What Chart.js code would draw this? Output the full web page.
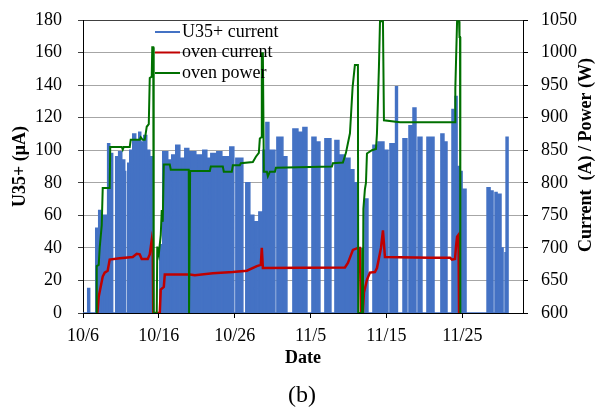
<!DOCTYPE html>
<html>
<head>
<meta charset="utf-8">
<script src="https://cdn.jsdelivr.net/npm/chart.js@4.4.1/dist/chart.umd.min.js"></script>
<style>
  html, body { margin: 0; padding: 0; background: #fff; }
  #wrap { width: 595px; height: 408px; }
</style>
</head>
<body>
<div id="wrap"><canvas id="beamChart"></canvas></div>
<script>
// x values are days counted from 10/6
const tickDays = [0, 10, 20, 30, 40, 50];
const dateLabels = ['10/6', '10/16', '10/26', '11/5', '11/15', '11/25'];

// U35+ beam current: each run is an interval where the beam was on
const beamStart = [0.62, 1.68, 2.07, 2.34, 2.60, 2.86, 3.25, 3.52, 4.31, 4.70, 5.24, 5.50, 5.90, 6.16, 6.56, 6.95, 7.35,
  7.70, 8.01, 8.40, 8.80, 10.12, 10.51, 11.31, 11.70, 12.23, 12.89, 13.42, 14.08, 15.00, 15.79, 16.45, 16.85, 17.64,
  18.43, 19.35, 20.15, 21.46, 21.99, 22.52, 23.18, 23.71, 24.11, 24.64, 25.56, 26.35, 27.67, 28.33, 28.99, 30.18,
  30.71, 31.89, 33.21, 33.73, 34.53, 35.19, 35.71, 37.16, 38.22, 38.88, 39.67, 40.46, 41.20, 42.18, 42.97, 43.50,
  44.16, 45.34, 45.87, 47.18, 47.72, 48.64, 49.04, 49.31, 49.70, 50.10, 53.26, 53.79, 54.31, 54.71, 55.10, 55.63, 55.77];
const beamEnd = [0.88, 2.07, 2.34, 2.60, 2.86, 3.25, 3.52, 3.91, 4.70, 5.11, 5.50, 5.63, 6.16, 6.56, 6.95, 7.35, 7.61,
  8.01, 8.40, 8.80, 9.19, 10.51, 11.17, 11.70, 12.10, 12.76, 13.42, 13.94, 14.87, 15.66, 16.32, 16.85, 17.51, 18.30,
  19.22, 19.88, 21.07, 21.99, 22.52, 23.05, 23.71, 24.11, 24.50, 25.30, 26.35, 26.88, 28.33, 28.99, 29.52, 30.71,
  31.23, 32.68, 33.73, 34.53, 35.19, 35.71, 36.24, 37.56, 38.88, 39.67, 40.20, 41.12, 41.45, 42.70, 43.36, 43.89,
  44.68, 45.74, 46.27, 47.58, 47.98, 49.04, 49.31, 49.70, 49.97, 50.49, 53.66, 54.05, 54.58, 55.10, 55.37, 55.77, 56.03];
const beamTop = [15, 52, 63, 57, 60, 60, 104, 98, 96, 99, 94, 87, 92, 100, 110, 106, 111,
  105, 109, 100, 96, 42, 99, 94, 97, 103, 95, 101, 99, 97, 100, 95, 98, 99,
  96, 102, 95, 80, 60, 56, 62, 100, 117, 100, 108, 96, 113, 111, 114, 108,
  105, 107, 106, 97, 95, 88, 80, 70, 103, 105, 100, 104, 139, 107, 115, 126,
  108, 108, 108, 110, 105, 125, 133, 90, 87, 76, 77, 75, 74, 73, 40, 37, 108];

// oven current (A)
const currentDays = [1.90, 2.07, 2.60, 2.86, 3.25, 3.52, 4.84, 6.56, 7.08, 7.48, 7.74, 8.53, 8.80, 9.06, 9.19, 9.26,
  10.12, 10.25, 10.65, 10.78, 14.08, 14.74, 17.11, 19.75, 21.60, 22.92, 23.44, 23.57, 23.71, 34.53, 34.92, 35.58,
  36.24, 36.50, 36.63, 36.90, 37.03, 37.43, 37.82, 38.48, 38.75, 39.28, 39.54, 39.80, 45.74, 48.38, 48.64, 49.04,
  49.17, 49.31, 49.50, 49.57];
const currentAmps = [600, 625, 656, 662, 665, 682, 684, 686, 691, 690, 683, 683, 690, 712, 700, 600,
  600, 636, 640, 659, 659, 658, 661, 663, 665, 672, 674, 700, 669, 670, 677, 697,
  700, 700, 600, 600, 631, 651, 662, 663, 669, 700, 727, 686, 685, 685, 682, 683,
  702, 717, 720, 600];

// oven power (W)
const powerDays = [1.74, 1.81, 2.07, 2.20, 2.47, 2.60, 3.52, 3.59, 5.11, 5.24, 5.37, 6.16, 6.29, 7.48, 7.61, 7.87,
  8.14, 8.40, 8.67, 8.80, 9.06, 9.13, 9.26, 9.32, 9.72, 9.79, 9.99, 10.25, 10.38, 10.51, 10.65, 11.44, 11.57, 13.94,
  13.98, 14.08, 14.12, 16.72, 16.85, 18.43, 18.56, 19.62, 19.75, 20.67, 20.80, 22.39, 22.79, 23.18, 23.31, 23.51,
  23.57, 23.71, 23.84, 24.24, 24.37, 24.64, 25.30, 25.43, 32.81, 32.94, 34.26, 34.66, 35.19, 35.54, 35.84, 36.24,
  36.28, 36.77, 36.81, 36.90, 36.96, 37.16, 37.30, 37.43, 38.09, 38.62, 38.75, 39.01, 39.15, 39.54, 39.67, 41.78,
  49.04, 49.08, 49.17, 49.31, 49.57, 49.63, 49.70, 49.74];
const powerWatts = [600, 672, 674, 700, 735, 792, 792, 855, 855, 851, 855, 855, 866, 866, 870, 866,
  866, 886, 890, 961, 963, 1008, 1008, 600, 600, 702, 690, 720, 758, 740, 828, 828, 820, 820,
  600, 600, 818, 818, 825, 825, 817, 817, 827, 827, 830, 832, 840, 846, 868, 870,
  999, 999, 817, 817, 810, 817, 817, 823, 825, 830, 831, 846, 876, 947, 981, 981,
  600, 600, 700, 600, 760, 790, 800, 845, 850, 852, 876, 978, 1048, 1048, 896, 893,
  893, 945, 986, 1048, 1048, 1024, 1024, 600];

// each beam run becomes a rectangle that rises from zero and falls back
const beamPoints = [{ x: 0, y: 0 }];
beamStart.forEach((s, i) => {
  beamPoints.push({ x: s, y: 0 }, { x: s, y: beamTop[i] }, { x: beamEnd[i], y: beamTop[i] }, { x: beamEnd[i], y: 0 });
});
const currentPoints = currentDays.map((d, i) => ({ x: d, y: currentAmps[i] }));
const powerPoints = powerDays.map((d, i) => ({ x: d, y: powerWatts[i] }));

const SERIF = '"Liberation Serif", "Times New Roman", serif';
Chart.defaults.font.family = SERIF;
Chart.defaults.color = '#000';

// fixed axis box sizes; drop the label overhang so the plot top stays put
const fixWidth = (w) => (scale) => {
    scale.width = w;
    scale.paddingTop = 0;
    scale.paddingBottom = 0;
};

// legend inside the plot, right axis title and the panel caption
const overlay = {
    id: 'overlay',
    afterDraw(chart) {
        const { ctx, chartArea } = chart;
        ctx.save();
        ctx.font = '18px ' + SERIF;
        ctx.textBaseline = 'middle';
        chart.data.datasets.forEach((ds, i) => {
            const y = chartArea.top + 12 + i * 20.5;
            const x = chartArea.left + 72;
            ctx.strokeStyle = ds.borderColor;
            ctx.lineWidth = 2;
            ctx.beginPath();
            ctx.moveTo(x, y);
            ctx.lineTo(x + 25, y);
            ctx.stroke();
            ctx.fillStyle = '#000';
            ctx.fillText(ds.label, x + 27, y);
        });

        ctx.font = 'bold 18px ' + SERIF;
        ctx.textAlign = 'center';
        ctx.translate(586, 155);
        ctx.rotate(-Math.PI / 2);
        ctx.fillText('Current  (A) / Power (W)', 0, 0);
        ctx.restore();

        ctx.save();
        ctx.font = '24px ' + SERIF;
        ctx.textAlign = 'center';
        ctx.textBaseline = 'alphabetic';
        ctx.fillStyle = '#000';
        ctx.fillText('(b)', 302, 402);
        ctx.restore();
    }
};

new Chart(document.getElementById('beamChart'), {
    type: 'line',
    data: {
        datasets: [
            {
                label: 'U35+ current',
                data: beamPoints,
                yAxisID: 'y',
                borderColor: '#4472C4',
                backgroundColor: '#4472C4',
                borderWidth: 1.5,
                fill: 'origin',
                pointRadius: 0,
                order: 3
            },
            {
                label: 'oven current',
                data: currentPoints,
                yAxisID: 'y2',
                borderColor: '#C00000',
                borderWidth: 2.5,
                fill: false,
                pointRadius: 0,
                order: 2
            },
            {
                label: 'oven power',
                data: powerPoints,
                yAxisID: 'y2',
                borderColor: '#007000',
                borderWidth: 2,
                fill: false,
                pointRadius: 0,
                order: 1
            }
        ]
    },
    options: {
        responsive: true,
        maintainAspectRatio: false,
        animation: false,
        events: [],
        layout: { padding: { top: 20, bottom: 37, left: 0, right: 0 } },
        plugins: {
            legend: { display: false },
            tooltip: { enabled: false }
        },
        scales: {
            x: {
                type: 'linear',
                min: 0,
                max: 58,
                afterBuildTicks: (scale) => { scale.ticks = tickDays.map((v) => ({ value: v })); },
                afterFit: (scale) => { scale.height = 58; },
                ticks: {
                    callback: (value) => dateLabels[tickDays.indexOf(value)],
                    font: { size: 18 },
                    padding: 7,
                    maxRotation: 0,
                    autoSkip: false
                },
                grid: { drawOnChartArea: false, tickLength: 5, tickColor: '#000' },
                border: { color: '#000', width: 1 },
                title: {
                    display: true,
                    text: 'Date',
                    font: { size: 18, weight: 'bold', lineHeight: 1 },
                    padding: { top: 0, bottom: 4 }
                }
            },
            y: {
                position: 'left',
                min: 0,
                max: 180,
                afterFit: fixWidth(83),
                ticks: { stepSize: 20, font: { size: 18 }, padding: 16 },
                grid: {
                    color: (c) => (c.tick && (c.tick.value === 180 || c.tick.value === 0)) ? '#404040' : '#a6a6a6',
                    tickLength: 5,
                    tickColor: '#404040'
                },
                border: { color: '#000', width: 1 },
                title: {
                    display: true,
                    text: 'U35+ (μA)',
                    font: { size: 18, weight: 'bold', lineHeight: 1 },
                    padding: { top: 11, bottom: 0 }
                }
            },
            y2: {
                position: 'right',
                min: 600,
                max: 1050,
                afterFit: fixWidth(72),
                ticks: { stepSize: 50, font: { size: 18 }, padding: 13, callback: (value) => String(value) },
                grid: { drawOnChartArea: false, tickLength: 5, tickColor: '#000' },
                border: { color: '#000', width: 1 }
            }
        }
    },
    plugins: [overlay]
});
</script>
</body>
</html>
